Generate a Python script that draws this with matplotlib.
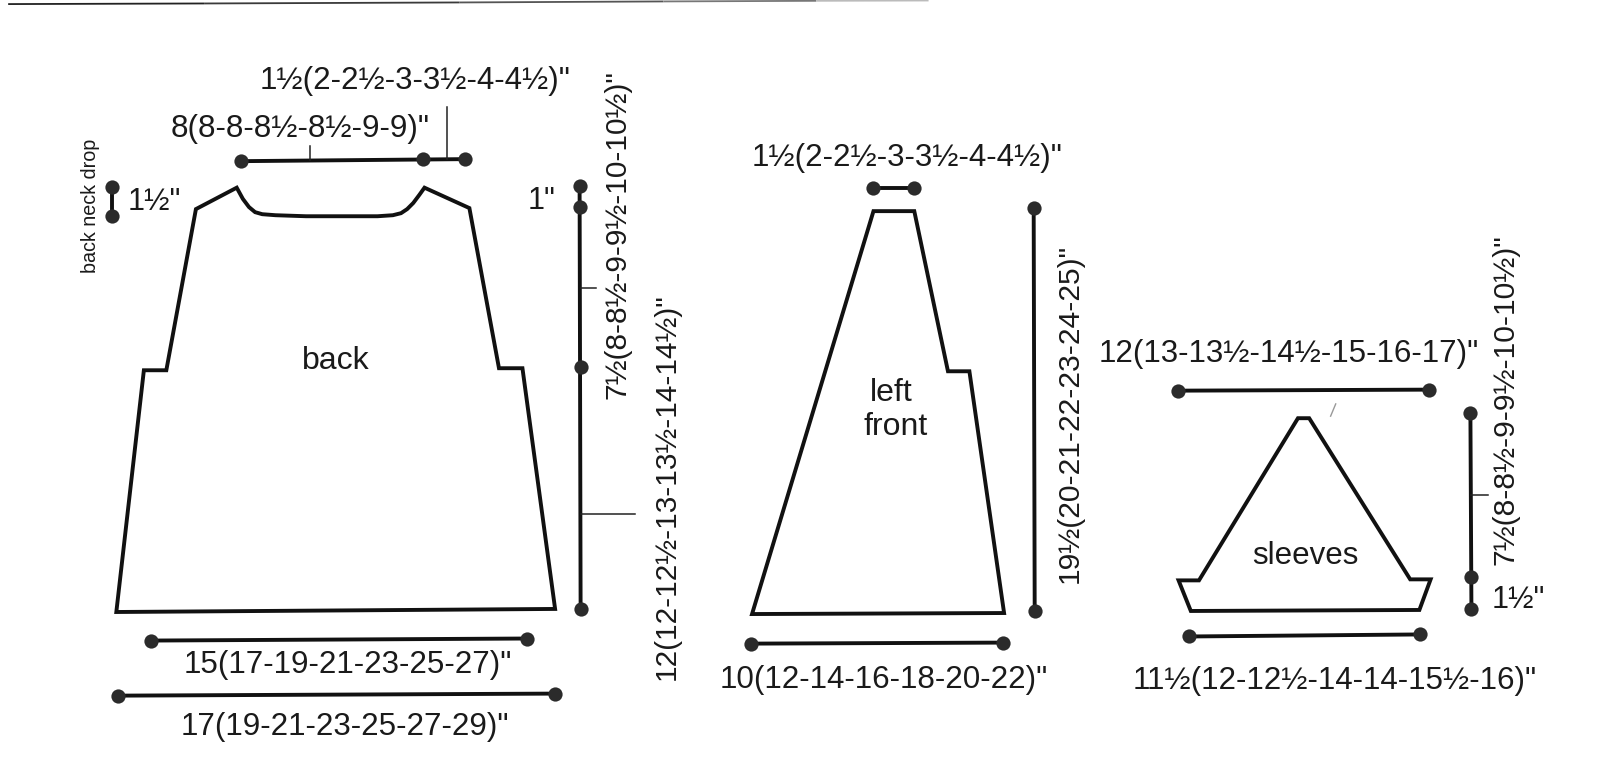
import matplotlib
matplotlib.use('Agg')
import matplotlib.pyplot as plt

plt.rcParams['font.family'] = ['Liberation Sans', 'DejaVu Sans']

# outlines of the three pieces
back_x = [114, 141, 163, 192, 232, 238, 244, 250, 257, 270, 300, 370, 385, 393, 399, 405, 411, 416, 460, 489, 512, 544]
back_y = [600, 363, 363, 205, 184, 195, 203, 208, 210, 211, 212, 212, 211, 209, 205, 199, 191, 184, 204, 361, 361, 597]
front_x = [737, 856, 896, 929, 950, 984]
front_y = [602, 207, 207, 364, 364, 601]
sleeve_x = [1155, 1175, 1272, 1283, 1382, 1402, 1391, 1167]
sleeve_y = [569, 569, 410, 410, 568, 568, 598, 599]

# measure lines: x, y
dim_lines = [
    ([236, 456], [158, 156]),
    ([110, 110], [183, 212]),
    ([568, 569], [182, 597]),
    ([148, 516], [628, 626]),
    ([116, 544], [682, 680]),
    ([856, 896], [184, 184]),
    ([1013, 1014], [204, 599]),
    ([736, 983], [631, 630]),
    ([1154, 1400], [383, 382]),
    ([1165, 1392], [624, 622]),
    ([1441, 1442], [405, 597]),
]
dot_x = [236, 415, 456, 110, 110, 568, 568, 569, 569, 148, 516, 116, 544, 856, 896,
         1013, 1014, 736, 983, 1154, 1400, 1165, 1392, 1441, 1442, 1442]
dot_y = [158, 156, 156, 183, 212, 182, 203, 360, 597, 628, 626, 682, 680, 184, 184,
         204, 599, 631, 630, 383, 382, 624, 622, 405, 566, 597]

# thin leader lines
leaders = [
    ([304, 304], [157, 143]),
    ([438, 438], [156, 105]),
    ([569, 584], [282, 282]),
    ([569, 622], [504, 504]),
    ([1442, 1458], [485, 485]),
]

# rule at the top of the page, it slopes up and fades out
rule_x = [8, 200, 450, 650, 800, 910]
rule_y = [4, 3.4, 2.4, 1.4, 0.8, 0.5]
rule_colors = ['#222222', '#3a3a3a', '#555555', '#777777', '#bbbbbb']

# labels: text, x, y, rotation, size
labels = [
    ('1½(2-2½-3-3½-4-4½)"', 407, 79, 0, 22.6),
    ('8(8-8-8½-8½-9-9)"', 294, 126, 0, 22.6),
    ('back neck drop', 89, 202, 90, 14.2),
    ('1½"', 151, 198, 0, 22),
    ('1"', 531, 197, 0, 22),
    ('7½(8-8½-9-9½-10-10½)"', 605, 230, 90, 21.5),
    ('12(12-12½-13-13½-14-14½)"', 653, 477, 90, 21.4),
    ('back', 329, 354, 0, 23),
    ('15(17-19-21-23-25-27)"', 341, 652, 0, 22.6),
    ('17(19-21-23-25-27-29)"', 338, 713, 0, 22.6),
    ('1½(2-2½-3-3½-4-4½)"', 889, 155, 0, 22.6),
    ('left', 873, 385, 0, 23),
    ('front', 878, 419, 0, 23),
    ('19½(20-21-22-23-24-25)"', 1048, 405, 90, 21.6),
    ('10(12-14-16-18-20-22)"', 866, 667, 0, 22.6),
    ('12(13-13½-14½-15-16-17)"', 1263, 347, 0, 22.6),
    ('sleeves', 1279, 545, 0, 22.5),
    ('7½(8-8½-9-9½-10-10½)"', 1475, 392, 90, 21.6),
    ('1½"', 1488, 588, 0, 22),
    ('11½(12-12½-14-14-15½-16)"', 1308, 668, 0, 22.6),
]

fig = plt.figure(figsize=(16, 7.65), dpi=100)
ax = fig.add_axes([0, 0, 1, 1])
ax.set_xlim(0, 1568)
ax.set_ylim(750, 0)
ax.axis('off')

for i in range(len(rule_colors)):
    ax.plot(rule_x[i:i+2], rule_y[i:i+2], color=rule_colors[i], lw=1.3, solid_capstyle='butt')

for px, py in [(back_x, back_y), (front_x, front_y), (sleeve_x, sleeve_y)]:
    ax.fill(px, py, facecolor='none', edgecolor='#111111', lw=2.8, joinstyle='miter')

for lx, ly in dim_lines:
    ax.plot(lx, ly, color='#111111', lw=2.8, solid_capstyle='butt')
for lx, ly in leaders:
    ax.plot(lx, ly, color='#222222', lw=1.1)
ax.scatter(dot_x, dot_y, s=105, color='#2b2b2b', zorder=3, linewidths=0)

# specks from the scan
ax.plot([1304, 1309], [408, 396], color='#999999', lw=1)

for txt, x, y, rot, size in labels:
    ax.text(x, y, txt, rotation=rot, fontsize=size, ha='center', va='center', color='#1a1a1a')

fig.savefig('out.png', dpi=100)
